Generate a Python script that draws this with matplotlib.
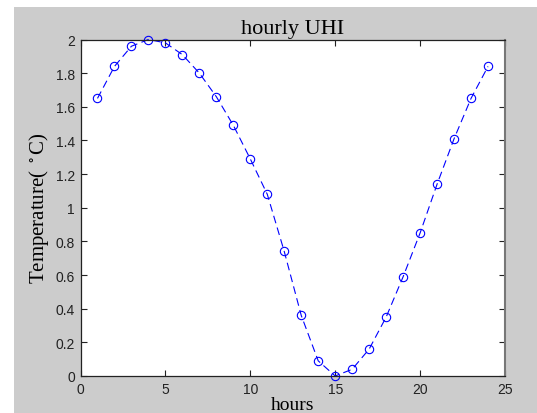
import matplotlib.pyplot as plt
from matplotlib.patches import Rectangle

hours = [1, 2, 3, 4, 5, 6, 7, 8, 9, 10, 11, 12,
         13, 14, 15, 16, 17, 18, 19, 20, 21, 22, 23, 24]
uhi = [1.65, 1.84, 1.96, 2.00, 1.98, 1.91, 1.80, 1.66, 1.49, 1.29, 1.08, 0.74,
       0.36, 0.09, 0.00, 0.04, 0.16, 0.35, 0.59, 0.85, 1.14, 1.41, 1.65, 1.84]
xticks = [0, 5, 10, 15, 20, 25]
yticks = [0, 0.2, 0.4, 0.6, 0.8, 1, 1.2, 1.4, 1.6, 1.8, 2]

W, H = 537, 414
plt.rcParams['mathtext.fontset'] = 'stix'

fig = plt.figure(figsize=(W / 100, H / 100), dpi=100, facecolor='white')
fig.patches.append(Rectangle((14 / W, 0), 1, 1 - 8 / H, transform=fig.transFigure,
                             facecolor='#cccccc', edgecolor='none', zorder=-10))

ax = fig.add_axes([80.5 / W, 1 - 377 / H, (505 - 80.5) / W, (377 - 40.5) / H])
ax.plot(hours, uhi, linestyle=(0, (7, 4)), color='#0000ff', linewidth=0.8,
        marker='o', markersize=6, markerfacecolor='none',
        markeredgecolor='#0000ff', markeredgewidth=0.8, clip_on=False)

ax.set_xlim(0, 25)
ax.set_ylim(0, 2)
ax.set_xticks(xticks)
ax.set_yticks(yticks)
ax.set_xticklabels([str(t) for t in xticks])
ax.set_yticklabels(['0', '0.2', '0.4', '0.6', '0.8', '1', '1.2', '1.4', '1.6', '1.8', '2'])
ax.tick_params(direction='in', top=True, right=True, length=4, width=0.8,
               labelsize=10, colors='#222222', pad=4)
for lab in ax.get_xticklabels() + ax.get_yticklabels():
    lab.set_fontfamily('Liberation Sans')
for s in ax.spines.values():
    s.set_linewidth(0.9)
    s.set_color('#222222')
ax.spines['right'].set_color('#777777')
ax.spines['right'].set_linewidth(1.5)

ax.set_title('hourly UHI', fontfamily='Liberation Serif', fontsize=16, pad=5)
ax.set_xlabel('hours', fontfamily='Liberation Serif', fontsize=14, labelpad=0)
ax.set_ylabel('Temperature( $^\\circ$C)', fontfamily='Liberation Serif', fontsize=15, labelpad=3)

fig.savefig('out.png', dpi=100)
